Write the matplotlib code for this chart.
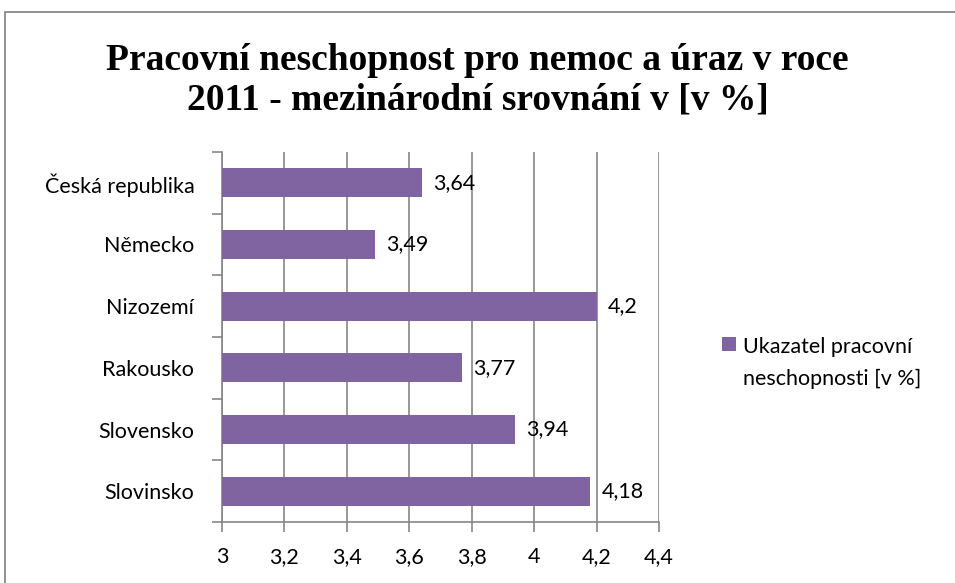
import numpy as np
import matplotlib.pyplot as plt
from matplotlib.patches import Rectangle
from matplotlib.container import BarContainer
from matplotlib.legend_handler import HandlerPatch

# data (top to bottom)
countries = ['Česká republika', 'Německo', 'Nizozemí', 'Rakousko', 'Slovensko', 'Slovinsko']
values = [3.64, 3.49, 4.2, 3.77, 3.94, 4.18]
value_labels = ['3,64', '3,49', '4,2', '3,77', '3,94', '4,18']
x_ticks = [3, 3.2, 3.4, 3.6, 3.8, 4, 4.2, 4.4]
x_tick_labels = ['3', '3,2', '3,4', '3,6', '3,8', '4', '4,2', '4,4']
series_name = 'Ukazatel pracovní\nneschopnosti [v %]'
title = 'Pracovní neschopnost pro nemoc a úraz v roce\n2011 - mezinárodní srovnání v [v %]'

bar_color = '#8064A2'
grid_color = '#868686'
fs = 15.5

plt.rcParams['font.family'] = ['Lato', 'DejaVu Sans']


def top_square(legend, orig_handle, xdescent, ydescent, width, height, fontsize):
    # legend square next to the first line of a two-line label
    return Rectangle((-xdescent, -ydescent + 0.9 * fontsize), width, height,
                     facecolor=bar_color, edgecolor='none')


def keep_style(legend_handle, orig_handle):
    pass


fig = plt.figure(figsize=(9.55, 5.83), dpi=100)
ax = fig.add_axes([0.2325, 0.1046, 0.4576, 0.6347])

y = np.arange(len(countries))[::-1]
ax.barh(y, np.array(values) - 3, left=3, height=0.47, color=bar_color,
        label=series_name, zorder=3)

for yi, v, lab in zip(y, values, value_labels):
    ax.text(v + 0.035, yi, lab, va='center', ha='left', fontsize=fs, zorder=4)

ax.set_xlim(3, 4.4)
ax.set_ylim(-0.5, len(countries) - 0.5)
ax.set_xticks(x_ticks)
ax.set_xticklabels(x_tick_labels, fontsize=fs)
ax.set_yticks(y)
ax.set_yticklabels(countries, fontsize=fs)
ax.set_yticks(np.arange(len(countries) + 1) - 0.5, minor=True)
ax.tick_params(axis='y', which='major', length=0, pad=20)
ax.tick_params(axis='y', which='minor', length=7, color=grid_color, width=1.2)
ax.tick_params(axis='x', length=7, color=grid_color, width=1.2, pad=11)

ax.grid(axis='x', color=grid_color, linewidth=1.2, zorder=0)
for s in ['top', 'right']:
    ax.spines[s].set_visible(False)
for s in ['left', 'bottom']:
    ax.spines[s].set_color(grid_color)
    ax.spines[s].set_linewidth(1.2)

fig.text(0.5, 0.862, title, ha='center', va='center', fontsize=27,
         fontweight='bold', family='Liberation Serif', linespacing=1.15)

leg = ax.legend(loc='center left', bbox_to_anchor=(1.125, 0.43), frameon=False,
                fontsize=fs, handlelength=0.65, handleheight=0.65,
                handletextpad=0.3, borderaxespad=0,
                handler_map={BarContainer: HandlerPatch(patch_func=top_square,
                                                        update_func=keep_style)})
for t in leg.get_texts():
    t.set_linespacing(1.75)

fig.patches.append(Rectangle((5 / 955, -0.1), 1.2, 1 - 12 / 583 + 0.1,
                             transform=fig.transFigure, fill=False,
                             edgecolor='#7f7f7f', linewidth=1.2))

fig.savefig('out.png', dpi=100)
